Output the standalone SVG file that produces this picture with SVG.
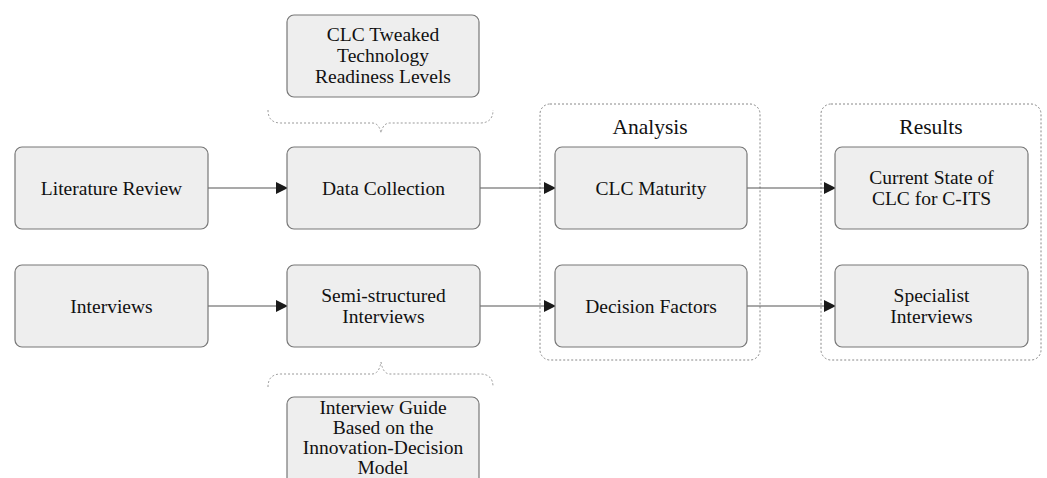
<svg xmlns="http://www.w3.org/2000/svg" width="1047" height="478" viewBox="0 0 1047 478">
<defs>
<style>
.node rect{fill:#eeeeee;stroke:#777777;stroke-width:1.2}
.t{font-family:"Liberation Serif","Times New Roman",serif;font-size:19.5px;fill:#111111;text-anchor:middle}
.title{font-family:"Liberation Serif","Times New Roman",serif;font-size:21.5px;fill:#111111;text-anchor:middle}
.grp{fill:none;stroke:#888888;stroke-width:1;stroke-dasharray:2,2}
.edge{stroke:#555555;stroke-width:1.2;fill:none}
.brace{fill:none;stroke:#999999;stroke-width:1;stroke-dasharray:2,2}
</style>
<marker id="arr" markerWidth="12" markerHeight="12" refX="11" refY="6" orient="auto" markerUnits="userSpaceOnUse">
<path d="M0,0 L12,6 L0,12 Z" fill="#1a1a1a"/>
</marker>
</defs>
<rect width="1047" height="478" fill="#ffffff"/>
<g id="analysis-group">
<rect class="grp" x="540" y="104" width="220" height="256" rx="10"/>
<text class="title" x="650" y="134">Analysis</text>
</g>
<g id="results-group">
<rect class="grp" x="821" y="104" width="220" height="256" rx="10"/>
<text class="title" x="931" y="134">Results</text>
</g>
<g id="braces">
<path class="brace" d="M268,110 Q268,123 281,123 L372,123 Q379,123 381,133 Q383,123 390,123 L480,123 Q493,123 493,110"/>
<path class="brace" d="M268,387 Q268,374 281,374 L372,374 Q379,374 381,362 Q383,374 390,374 L480,374 Q493,374 493,387"/>
</g>
<g id="connectors">
<line class="edge" x1="208" y1="188" x2="287" y2="188" marker-end="url(#arr)"/>
<line class="edge" x1="480" y1="188" x2="555" y2="188" marker-end="url(#arr)"/>
<line class="edge" x1="747" y1="188" x2="835" y2="188" marker-end="url(#arr)"/>
<line class="edge" x1="208" y1="306" x2="287" y2="306" marker-end="url(#arr)"/>
<line class="edge" x1="480" y1="306" x2="555" y2="306" marker-end="url(#arr)"/>
<line class="edge" x1="747" y1="306" x2="835" y2="306" marker-end="url(#arr)"/>
</g>
<g id="clc-trl" class="node">
<rect x="287" y="15" width="192" height="82" rx="7"/>
<text class="t" x="383" y="41">CLC Tweaked</text>
<text class="t" x="383" y="62">Technology</text>
<text class="t" x="383" y="83">Readiness Levels</text>
</g>
<g id="literature-review" class="node">
<rect x="15" y="147" width="193" height="82" rx="7"/>
<text class="t" x="111.5" y="194.5">Literature Review</text>
</g>
<g id="data-collection" class="node">
<rect x="287" y="147" width="193" height="82" rx="7"/>
<text class="t" x="383.5" y="194.5">Data Collection</text>
</g>
<g id="clc-maturity" class="node">
<rect x="555" y="147" width="192" height="82" rx="7"/>
<text class="t" x="651" y="194.5">CLC Maturity</text>
</g>
<g id="current-state" class="node">
<rect x="835" y="147" width="193" height="82" rx="7"/>
<text class="t" x="931.5" y="184">Current State of</text>
<text class="t" x="931.5" y="205">CLC for C-ITS</text>
</g>
<g id="interviews" class="node">
<rect x="15" y="265" width="193" height="82" rx="7"/>
<text class="t" x="111.5" y="312.5">Interviews</text>
</g>
<g id="semi-structured" class="node">
<rect x="287" y="265" width="193" height="82" rx="7"/>
<text class="t" x="383.5" y="302">Semi-structured</text>
<text class="t" x="383.5" y="323">Interviews</text>
</g>
<g id="decision-factors" class="node">
<rect x="555" y="265" width="192" height="82" rx="7"/>
<text class="t" x="651" y="312.5">Decision Factors</text>
</g>
<g id="specialist-interviews" class="node">
<rect x="835" y="265" width="193" height="82" rx="7"/>
<text class="t" x="931.5" y="302">Specialist</text>
<text class="t" x="931.5" y="323">Interviews</text>
</g>
<g id="interview-guide" class="node">
<rect x="287" y="397" width="192" height="90" rx="7"/>
<text class="t" x="383" y="414">Interview Guide</text>
<text class="t" x="383" y="434">Based on the</text>
<text class="t" x="383" y="454">Innovation-Decision</text>
<text class="t" x="383" y="474">Model</text>
</g>
</svg>
